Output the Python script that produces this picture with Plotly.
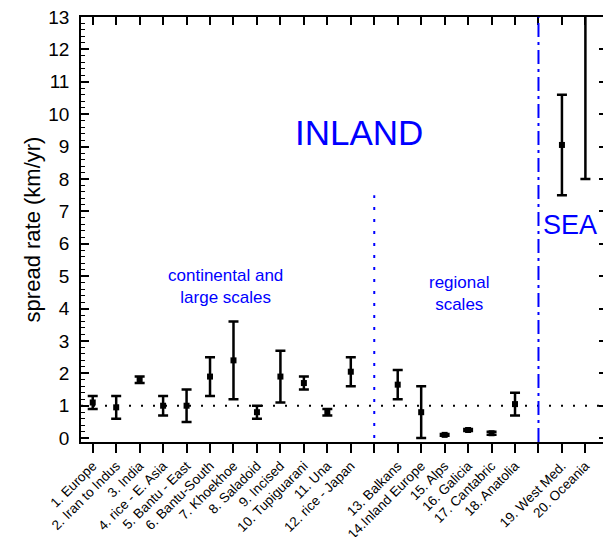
import plotly.graph_objects as go

labels = ["1. Europe", "2. Iran to Indus", "3. India", "4. rice - E. Asia", "5. Bantu - East",
          "6. Bantu-South", "7. Khoekhoe", "8. Saladoid", "9. Incised", "10. Tupiguarani",
          "11. Una", "12. rice - Japan",
          "13. Balkans", "14.Inland Europe", "15. Alps", "16. Galicia", "17. Cantabric", "18. Anatolia",
          "19. West Med.", "20. Oceania"]
positions = [1, 2, 3, 4, 5, 6, 7, 8, 9, 10, 11, 12,
             14, 15, 16, 17, 18, 19,
             21, 22]
rate = [1.1, 0.95, 1.8, 1.0, 1.0, 1.9, 2.4, 0.8, 1.9, 1.7, 0.8, 2.05,
        1.65, 0.8, 0.1, 0.25, 0.15, 1.05,
        9.05, 14.0]
low = [0.9, 0.6, 1.7, 0.7, 0.5, 1.3, 1.2, 0.6, 1.1, 1.5, 0.7, 1.6,
       1.2, 0.0, 0.07, 0.22, 0.1, 0.7,
       7.5, 8.0]
high = [1.3, 1.3, 1.9, 1.3, 1.5, 2.5, 3.6, 1.0, 2.7, 1.9, 0.9, 2.5,
        2.1, 1.6, 0.13, 0.28, 0.2, 1.4,
        10.6, 20.0]
divider_regional = 13
divider_regional_top = 7.5
divider_sea = 20
reference_rate = 1.0

FONT = "Arial, Liberation Sans, sans-serif"
BLUE = "#0000ff"

plus = [h - r for h, r in zip(high, rate)]
minus = [r - l for r, l in zip(rate, low)]

fig = go.Figure()
fig.add_trace(go.Scatter(
    x=positions, y=rate, mode="markers",
    marker=dict(symbol="square", size=6, color="black"),
    error_y=dict(type="data", symmetric=False, array=plus, arrayminus=minus,
                 color="black", thickness=2.5, width=5),
    showlegend=False, hoverinfo="skip"))
# dummy trace so the overlay axes (top / right) are drawn
fig.add_trace(go.Scatter(x=[positions[0]], y=[rate[0]], xaxis="x2", yaxis="y2",
                         mode="markers", marker=dict(opacity=0), showlegend=False,
                         hoverinfo="skip"))

xr = [0.5, 22.75]
yr = [-0.12, 13]
allticks = list(range(1, 23))
ticktext = []
for t in allticks:
    if t in positions:
        ticktext.append(labels[positions.index(t)])
    else:
        ticktext.append("")

fig.update_layout(
    width=603, height=537,
    margin=dict(l=81, r=0, t=17, b=95, autoexpand=False),
    paper_bgcolor="white", plot_bgcolor="white",
    font=dict(family=FONT, color="black"),
    xaxis=dict(range=xr, tickmode="array", tickvals=allticks, ticktext=ticktext,
               tickangle=-45, tickfont=dict(size=13.5, family=FONT),
               ticks="outside", ticklen=9, tickwidth=1.5, tickcolor="black",
               ticklabeloverflow="allow", automargin=False,
               showline=True, linecolor="black", linewidth=1.5,
               showgrid=False, zeroline=False),
    xaxis2=dict(range=xr, overlaying="x", side="top", tickmode="array", tickvals=allticks,
                showticklabels=False, ticks="inside", ticklen=8, tickwidth=1.5,
                tickcolor="black", showline=True, linecolor="black", linewidth=1.5,
                showgrid=False, zeroline=False, automargin=False),
    yaxis=dict(range=yr, tickmode="linear", tick0=0, dtick=1,
               tickfont=dict(size=19, family=FONT),
               ticks="inside", ticklen=8, tickwidth=1.5, tickcolor="black",
               minor=dict(dtick=0.2, ticks="inside", ticklen=4, tickcolor="black", tickwidth=1),
               ticklabelstandoff=6, ticklabeloverflow="allow", automargin=False,
               showline=True, linecolor="black", linewidth=1.5,
               showgrid=False, zeroline=False,
               title=dict(text="spread rate (km/yr)", font=dict(size=22, family=FONT), standoff=2)),
    yaxis2=dict(range=yr, overlaying="y", side="right", tickmode="linear", tick0=0, dtick=1,
                showticklabels=False, ticks="inside", ticklen=4, tickwidth=1.5,
                tickcolor="black", showline=True, linecolor="black", linewidth=1.5,
                showgrid=False, zeroline=False, automargin=False),
)

fig.add_shape(type="line", xref="paper", yref="y", x0=0, x1=1, y0=reference_rate, y1=reference_rate,
              line=dict(color="black", width=2, dash="2px,10px"))
fig.add_shape(type="line", xref="x", yref="y", x0=divider_regional, x1=divider_regional,
              y0=0, y1=divider_regional_top, line=dict(color=BLUE, width=2, dash="3px,9px"))
fig.add_shape(type="line", xref="x", yref="paper", x0=divider_sea, x1=divider_sea,
              y0=0, y1=1, line=dict(color=BLUE, width=2, dash="14px,5px,3px,5px"))

fig.add_annotation(x=12.35, y=9.45, xref="x", yref="y", text="INLAND", showarrow=False,
                   font=dict(size=35, color=BLUE, family=FONT))
fig.add_annotation(x=21.36, y=6.58, xref="x", yref="y", text="SEA", showarrow=False,
                   font=dict(size=27, color=BLUE, family=FONT))
fig.add_annotation(x=6.68, y=4.69, xref="x", yref="y", text="continental and<br>large scales",
                   showarrow=False, font=dict(size=17, color=BLUE, family=FONT))
fig.add_annotation(x=16.65, y=4.45, xref="x", yref="y", text="regional<br>scales",
                   showarrow=False, font=dict(size=17, color=BLUE, family=FONT))

fig.write_html("out.html", config={"displayModeBar": False},
               post_script="document.body.style.margin='0';document.body.style.overflow='hidden';")
